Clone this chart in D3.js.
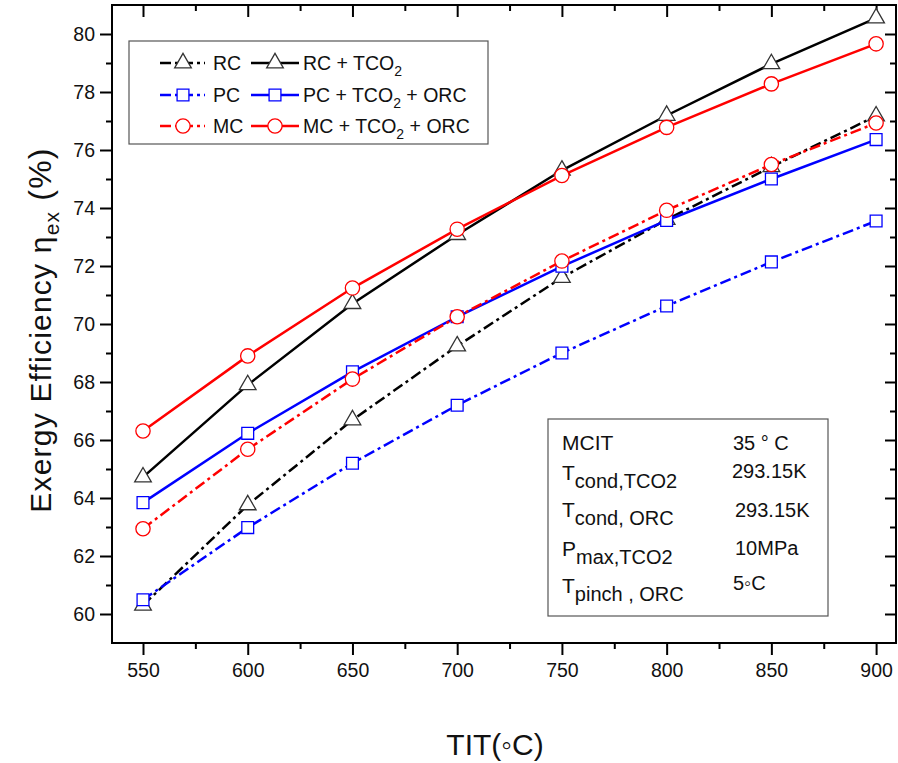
<!DOCTYPE html>
<html>
<head>
<meta charset="utf-8">
<script src="https://cdn.jsdelivr.net/npm/d3@7"></script>
<style>
  html, body { margin: 0; padding: 0; background: #fff; }
  svg { display: block; font-family: "Liberation Sans", Arial, sans-serif; }
</style>
</head>
<body>
<svg id="chart" width="898" height="763"></svg>
<script>
// ---- data ----
const temps = [550, 600, 650, 700, 750, 800, 850, 900];
const rc          = [60.30, 63.76, 66.69, 69.24, 71.60, 73.60, 75.42, 77.17];
const rcTco2      = [64.72, 67.90, 70.70, 73.08, 75.30, 77.19, 78.97, 80.55];
const pc          = [60.49, 62.98, 65.20, 67.20, 69.00, 70.62, 72.14, 73.55];
const pcTco2Orc   = [63.84, 66.23, 68.35, 70.25, 71.99, 73.57, 75.00, 76.36];
const mc          = [62.94, 65.68, 68.10, 70.25, 72.17, 73.92, 75.50, 76.93];
const mcTco2Orc   = [66.31, 68.90, 71.24, 73.27, 75.12, 76.78, 78.28, 79.66];

const xMajorTicks = [550, 600, 650, 700, 750, 800, 850, 900];
const xMinorTicks = [575, 625, 675, 725, 775, 825, 875];
const yMajorTicks = [60, 62, 64, 66, 68, 70, 72, 74, 76, 78, 80];
const yMinorTicks = [61, 63, 65, 67, 69, 71, 73, 75, 77, 79];

const xTitle = "TIT(\u25E6C)";

const seriesList = [
  { name: "RC",  sub: null, tail: "", values: rc,        color: "#000", marker: "triangle", dash: true },
  { name: "RC + TCO", sub: "2", tail: "", values: rcTco2, color: "#000", marker: "triangle", dash: false },
  { name: "PC",  sub: null, tail: "", values: pc,        color: "#0000ff", marker: "square", dash: true },
  { name: "PC + TCO", sub: "2", tail: " + ORC", values: pcTco2Orc, color: "#0000ff", marker: "square", dash: false },
  { name: "MC",  sub: null, tail: "", values: mc,        color: "#ff0000", marker: "circle", dash: true },
  { name: "MC + TCO", sub: "2", tail: " + ORC", values: mcTco2Orc, color: "#ff0000", marker: "circle", dash: false }
];

// ---- layout ----
const L = 112, R = 896, T = 5, B = 643;
const svg = d3.select("#chart");

const x = d3.scaleLinear().domain([535.2, 909.5]).range([L, R]);
const y = d3.scaleLinear().domain([59, 81]).range([B, T]);

const DASH = "11,4,3,4";

function markerPath(kind) {
  if (kind === "triangle") return d3.symbol().type(d3.symbolTriangle).size(120)();
  if (kind === "square") return d3.symbol().type(d3.symbolSquare).size(140)();
  return d3.symbol().type(d3.symbolCircle).size(160)();
}
function markerStroke(s) { return s.marker === "triangle" ? "#333" : s.color; }

// ---- axes ----
const tickStyle = g => {
  g.select(".domain").remove();
  g.selectAll("line").attr("stroke", "#000").attr("stroke-width", 2);
  g.selectAll("text").attr("font-size", 19.5).attr("fill", "#111")
    .attr("font-family", "'Liberation Sans', Arial, sans-serif");
};

// bottom
svg.append("g").attr("transform", `translate(0,${B})`)
  .call(d3.axisBottom(x).tickValues(xMajorTicks).tickSize(12).tickPadding(8).tickFormat(d3.format("d")))
  .call(tickStyle);
svg.append("g").attr("transform", `translate(0,${B})`)
  .call(d3.axisBottom(x).tickValues(xMinorTicks).tickSize(6).tickFormat(""))
  .call(tickStyle);
// top (inward)
svg.append("g").attr("transform", `translate(0,${T})`)
  .call(d3.axisTop(x).tickValues(xMajorTicks).tickSize(-12).tickFormat(""))
  .call(tickStyle);
svg.append("g").attr("transform", `translate(0,${T})`)
  .call(d3.axisTop(x).tickValues(xMinorTicks).tickSize(-6).tickFormat(""))
  .call(tickStyle);
// left
svg.append("g").attr("transform", `translate(${L},0)`)
  .call(d3.axisLeft(y).tickValues(yMajorTicks).tickSize(12).tickPadding(5).tickFormat(d3.format("d")))
  .call(tickStyle);
svg.append("g").attr("transform", `translate(${L},0)`)
  .call(d3.axisLeft(y).tickValues(yMinorTicks).tickSize(6).tickFormat(""))
  .call(tickStyle);
// right (inward)
svg.append("g").attr("transform", `translate(${R},0)`)
  .call(d3.axisRight(y).tickValues(yMajorTicks).tickSize(-11).tickFormat(""))
  .call(tickStyle);
svg.append("g").attr("transform", `translate(${R},0)`)
  .call(d3.axisRight(y).tickValues(yMinorTicks).tickSize(-6).tickFormat(""))
  .call(tickStyle);

// frame
svg.append("rect").attr("x", L).attr("y", T).attr("width", R - L).attr("height", B - T)
  .attr("fill", "none").attr("stroke", "#000").attr("stroke-width", 2);

// ---- series ----
const line = d3.line().x((d, i) => x(temps[i])).y(d => y(d));
const plot = svg.append("g");
seriesList.forEach(s => {
  const g = plot.append("g");
  g.append("path").datum(s.values).attr("d", line)
    .attr("fill", "none").attr("stroke", s.color).attr("stroke-width", 2.5)
    .attr("stroke-dasharray", s.dash ? DASH : null);
  g.selectAll("path.m").data(s.values).enter().append("path").attr("class", "m")
    .attr("d", markerPath(s.marker))
    .attr("transform", (d, i) => `translate(${x(temps[i])},${y(d)})`)
    .attr("fill", "#fff").attr("stroke", markerStroke(s)).attr("stroke-width", 1.3);
});

// ---- legend ----
const leg = svg.append("g");
leg.append("rect").attr("x", 129).attr("y", 41).attr("width", 359).attr("height", 103)
  .attr("fill", "#fff").attr("stroke", "#555").attr("stroke-width", 1.2);
const rowsY = [63, 95, 126];
seriesList.forEach((s, i) => {
  const row = Math.floor(i / 2), col = i % 2;
  const cy = rowsY[row];
  const x0 = col === 0 ? 160 : 251, x1 = col === 0 ? 205 : 299, xm = col === 0 ? 183 : 275;
  const tx = col === 0 ? 213 : 303;
  leg.append("line").attr("x1", x0).attr("x2", x1).attr("y1", cy).attr("y2", cy)
    .attr("stroke", s.color).attr("stroke-width", 2.5)
    .attr("stroke-dasharray", s.dash ? DASH : null);
  leg.append("path").attr("d", markerPath(s.marker))
    .attr("transform", `translate(${xm},${cy})`)
    .attr("fill", "#fff").attr("stroke", markerStroke(s)).attr("stroke-width", 1.3);
  const t = leg.append("text").attr("x", tx).attr("y", cy + 7).attr("font-size", 19.5).attr("fill", "#111");
  t.append("tspan").text(s.name);
  if (s.sub) {
    t.append("tspan").attr("font-size", 14).attr("dy", 6).text(s.sub);
    if (s.tail) t.append("tspan").attr("dy", -6).text(s.tail);
  }
});

// ---- info box ----
const info = svg.append("g");
info.append("rect").attr("x", 548).attr("y", 419).attr("width", 280).attr("height", 197)
  .attr("fill", "#fff").attr("stroke", "#555").attr("stroke-width", 1.2);
const infoLabels = [
  { main: "MCIT", sub: "", y: 450 },
  { main: "T", sub: "cond,TCO2", y: 480 },
  { main: "T", sub: "cond, ORC", y: 517 },
  { main: "P", sub: "max,TCO2", y: 556 },
  { main: "T", sub: "pinch , ORC", y: 593 }
];
const infoValues = [
  { text: "35 \u00B0 C", x: 733, y: 450 },
  { text: "293.15K", x: 732, y: 478 },
  { text: "293.15K", x: 735, y: 517 },
  { text: "10MPa", x: 735, y: 555 },
  { text: "5\u25E6C", x: 733, y: 590 }
];
infoLabels.forEach(r => {
  const t = info.append("text").attr("x", 562).attr("y", r.y).attr("font-size", 21).attr("fill", "#111");
  t.append("tspan").text(r.main);
  if (r.sub) t.append("tspan").attr("dy", 8).attr("font-size", 20).text(r.sub);
});
infoValues.forEach(v => {
  info.append("text").attr("x", v.x).attr("y", v.y).attr("font-size", 20).attr("fill", "#111").text(v.text);
});

// ---- axis titles ----
svg.append("text").attr("x", 495).attr("y", 755).attr("text-anchor", "middle")
  .attr("font-size", 30).attr("fill", "#111").text(xTitle);

const yt = svg.append("text").attr("transform", "translate(51,330) rotate(-90)")
  .attr("text-anchor", "middle").attr("font-size", 30).attr("letter-spacing", 1.2).attr("fill", "#111");
yt.append("tspan").text("Exergy Efficiency \u03B7");
yt.append("tspan").attr("font-size", 21).attr("dy", 8).text("ex");
yt.append("tspan").attr("dy", -8).attr("font-size", 32).text(" (%)");
</script>
</body>
</html>
